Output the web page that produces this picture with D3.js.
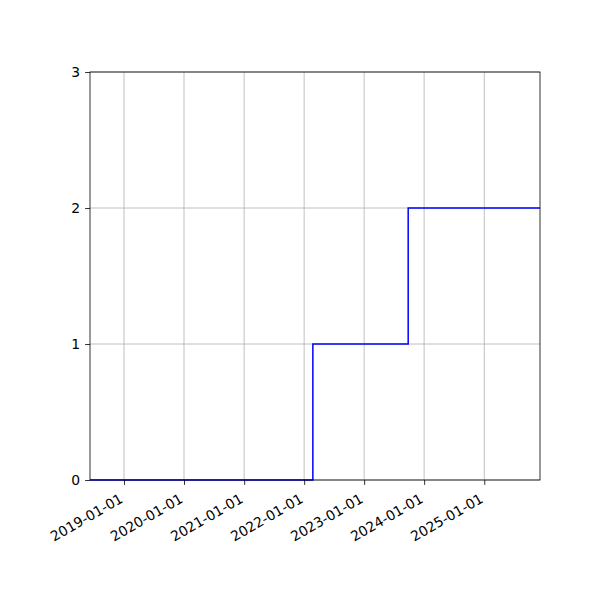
<!DOCTYPE html>
<html>
<head>
<meta charset="utf-8">
<script src="https://cdn.jsdelivr.net/npm/d3@7"></script>
<style>
  html, body { margin: 0; padding: 0; background: #fff; }
  svg { display: block; }
  text { font-family: "DejaVu Sans", sans-serif; font-size: 13.9px; fill: #000; }
</style>
</head>
<body>
<div id="chart"></div>
<script>
// Data
const stepDates = ["2018-06-08", "2022-02-23", "2023-09-26", "2025-12-06"];
const stepValues = [0, 1, 2, 2];
const xTickLabels = ["2019-01-01", "2020-01-01", "2021-01-01", "2022-01-01", "2023-01-01", "2024-01-01", "2025-01-01"];
const yTicks = [0, 1, 2, 3];

const W = 600, H = 600;
const mLeft = 90, mRight = 540, mTop = 72, mBottom = 480;
const parse = d3.utcParse("%Y-%m-%d");

const points = stepDates.map((d, i) => ({ date: parse(d), value: stepValues[i] }));

const x = d3.scaleUtc()
  .domain([parse(stepDates[0]), parse(stepDates[stepDates.length - 1])])
  .range([mLeft, mRight]);
const y = d3.scaleLinear().domain([0, 3]).range([mBottom, mTop]);

const svg = d3.select("#chart").append("svg").attr("width", W).attr("height", H);
svg.append("rect").attr("width", W).attr("height", H).attr("fill", "#fff");

const tickDates = xTickLabels.map(parse);

// Grid
const grid = svg.append("g");
grid.selectAll("line.vx").data(tickDates).enter().append("line")
  .attr("x1", d => x(d)).attr("x2", d => x(d))
  .attr("y1", mTop).attr("y2", mBottom)
  .attr("stroke", "#b0b0b0").attr("stroke-width", 0.8);
grid.selectAll("line.hy").data(yTicks).enter().append("line")
  .attr("x1", mLeft).attr("x2", mRight)
  .attr("y1", d => y(d)).attr("y2", d => y(d))
  .attr("stroke", "#b0b0b0").attr("stroke-width", 0.8);

// Line
const line = d3.line()
  .x(d => x(d.date))
  .y(d => y(d.value))
  .curve(d3.curveStepAfter);
svg.append("path").datum(points)
  .attr("d", line)
  .attr("fill", "none")
  .attr("stroke", "#0000ff")
  .attr("stroke-width", 1.5);

// Axes
const xAxis = d3.axisBottom(x).tickValues(tickDates).tickSize(4.9).tickPadding(0)
  .tickFormat(d3.utcFormat("%Y-%m-%d"));
const gx = svg.append("g").attr("transform", `translate(0,${mBottom})`).call(xAxis);
gx.select(".domain").remove();
gx.selectAll(".tick line").attr("stroke", "#000").attr("stroke-width", 0.8);
gx.selectAll(".tick text")
  .attr("font-family", "DejaVu Sans, sans-serif")
  .attr("font-size", 13.9)
  .attr("fill", "#000")
  .attr("text-anchor", "end")
  .attr("dy", null)
  .attr("y", null)
  .attr("transform", "translate(-0.5,21.5) rotate(-30)");

const yAxis = d3.axisLeft(y).tickValues(yTicks).tickSize(4.9).tickPadding(4.9)
  .tickFormat(d3.format("d"));
const gy = svg.append("g").attr("transform", `translate(${mLeft},0)`).call(yAxis);
gy.select(".domain").remove();
gy.selectAll(".tick line").attr("stroke", "#000").attr("stroke-width", 0.8);
gy.selectAll(".tick text")
  .attr("font-family", "DejaVu Sans, sans-serif")
  .attr("font-size", 13.9)
  .attr("fill", "#000");

// Spines
svg.append("rect")
  .attr("x", mLeft).attr("y", mTop)
  .attr("width", mRight - mLeft).attr("height", mBottom - mTop)
  .attr("fill", "none").attr("stroke", "#000").attr("stroke-width", 0.8);
</script>
</body>
</html>
